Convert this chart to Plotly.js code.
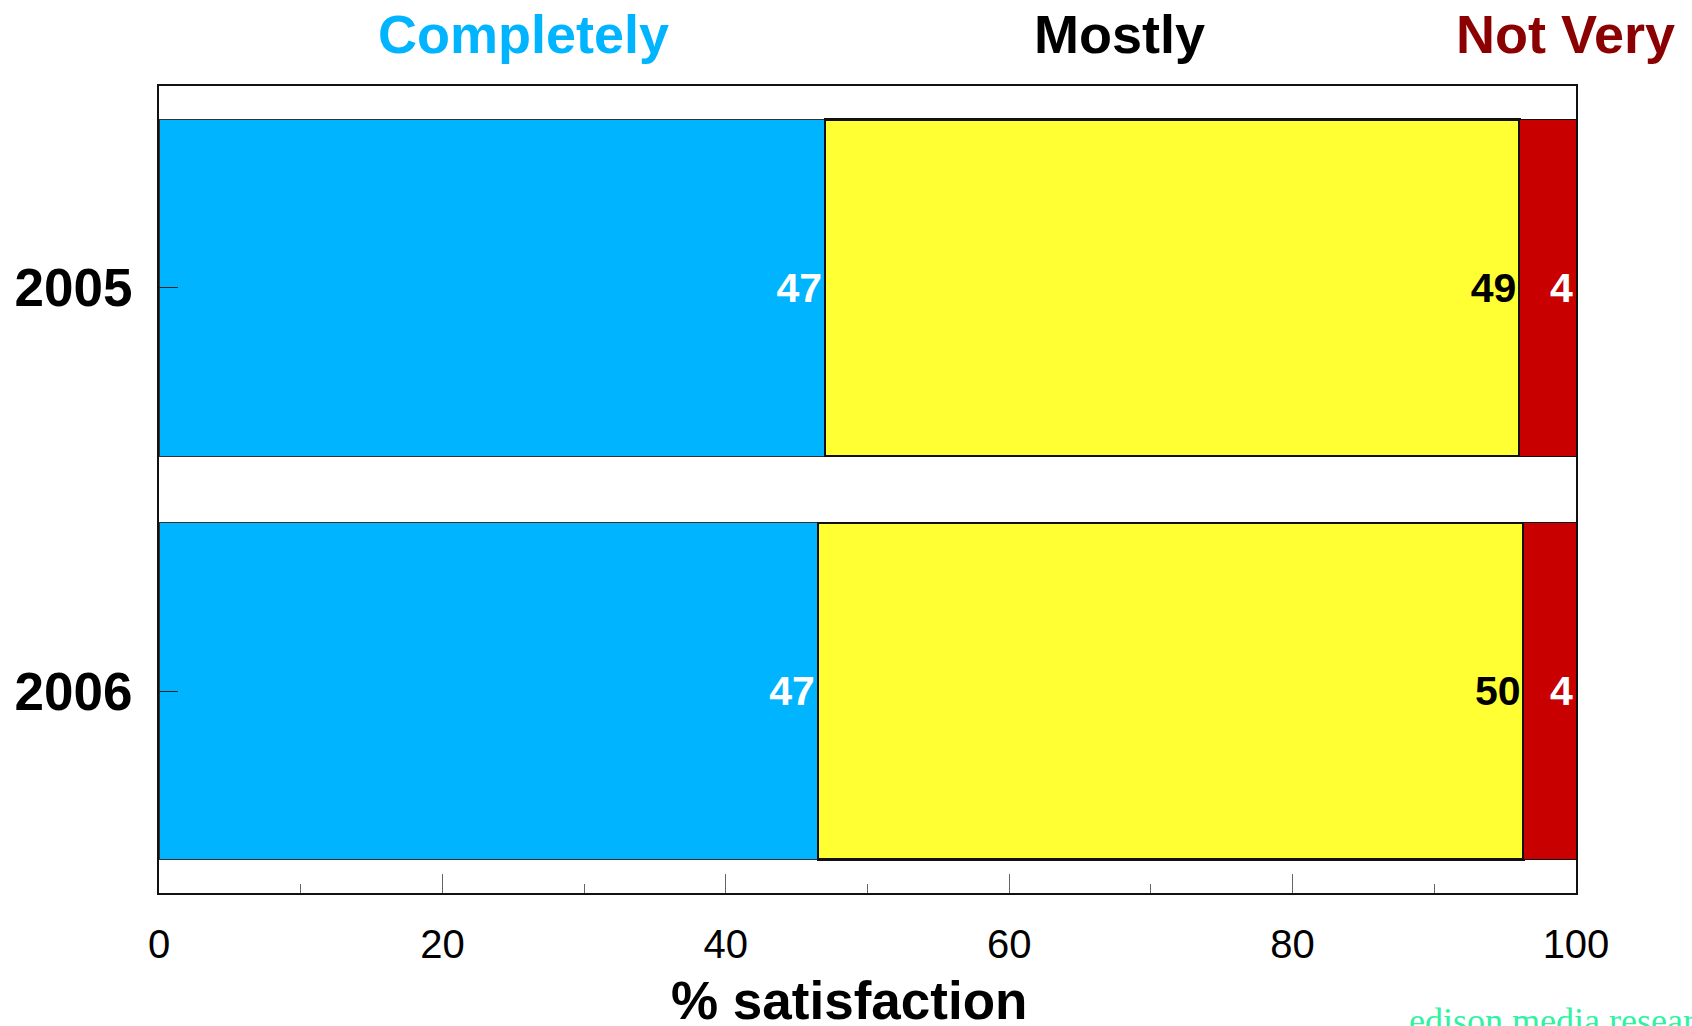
<!DOCTYPE html>
<html>
<head>
<meta charset="utf-8">
<script src="https://cdn.plot.ly/plotly-3.0.1.min.js"></script>
<style>html,body{margin:0;padding:0;background:#fff;}#chart{width:1692px;height:1026px;}</style>
</head>
<body>
<div id="chart"></div>
<script>
const years = ["2005", "2006"];
const completely = [47, 46.5];
const mostly = [49, 49.8];
const notVery = [4, 3.7];
const seriesNames = ["Completely", "Mostly", "Not Very"];
const xTicks = [0, 20, 40, 60, 80, 100];
const xTitle = "% satisfaction";

const FONT = "Arial, 'Liberation Sans', sans-serif";

function barTrace(vals, name, fill, lineColor, lineWidth, textColor) {
  return {
    type: "bar",
    orientation: "h",
    name: name,
    y: years,
    x: vals,
    marker: { color: fill, line: { color: lineColor, width: lineWidth } },
    texttemplate: "%{x:.0f}",
    textposition: "inside",
    insidetextanchor: "end",
    constraintext: "none",
    textangle: 0,
    textfont: { family: FONT, size: 41, color: textColor, weight: "bold" },
    hoverinfo: "skip"
  };
}

const data = [
  barTrace(completely, seriesNames[0], "#00b4ff", "#333333", 1, "#ffffff"),
  barTrace(mostly, seriesNames[1], "#ffff33", "#111111", 2.5, "#000000"),
  barTrace(notVery, seriesNames[2], "#c80000", "#111111", 1, "#ffffff")
];

const layout = {
  width: 1692,
  height: 1026,
  margin: { l: 159, r: 116, t: 86, b: 133, pad: 0 },
  paper_bgcolor: "#ffffff",
  plot_bgcolor: "#ffffff",
  barmode: "stack",
  bargap: 0.166,
  showlegend: false,
  font: { family: FONT, color: "#000" },
  xaxis: {
    range: [0, 100],
    tickvals: xTicks,
    ticktext: xTicks.map(String),
    ticks: "inside",
    ticklen: 19,
    tickwidth: 1,
    tickcolor: "#666666",
    minor: { dtick: 10, tick0: 0, ticks: "inside", ticklen: 9, tickwidth: 1, tickcolor: "#666666" },
    showline: true,
    linecolor: "#111111",
    linewidth: 2,
    mirror: true,
    showgrid: false,
    zeroline: false,
    tickfont: { family: FONT, size: 40, color: "#000" },
    ticklabelstandoff: 15,
    automargin: false,
    fixedrange: true
  },
  yaxis: {
    type: "category",
    categoryorder: "array",
    categoryarray: years,
    autorange: false,
    range: [1.5, -0.5],
    ticks: "inside",
    ticklen: 19,
    tickwidth: 1,
    tickcolor: "#222222",
    showline: true,
    linecolor: "#111111",
    linewidth: 2,
    mirror: true,
    showgrid: false,
    zeroline: false,
    tickfont: { family: FONT, size: 53, color: "#000", weight: "bold" },
    ticklabelstandoff: 14,
    automargin: false,
    fixedrange: true
  },
  annotations: [
    { text: xTitle, xref: "paper", yref: "paper", x: 0.487, y: -0.1338, xanchor: "center", yanchor: "middle", showarrow: false,
      font: { family: FONT, size: 53, color: "#000", weight: "bold" } },
    { text: seriesNames[0], xref: "paper", yref: "paper", x: 0.2572, y: 1.065, xanchor: "center", yanchor: "middle", showarrow: false,
      font: { family: FONT, size: 54, color: "#00b4ff", weight: "bold" } },
    { text: seriesNames[1], xref: "paper", yref: "paper", x: 0.6777, y: 1.065, xanchor: "center", yanchor: "middle", showarrow: false,
      font: { family: FONT, size: 54, color: "#000000", weight: "bold" } },
    { text: seriesNames[2], xref: "paper", yref: "paper", x: 0.9923, y: 1.065, xanchor: "center", yanchor: "middle", showarrow: false,
      font: { family: FONT, size: 54, color: "#8b0000", weight: "bold" } },
    { text: "edison media research", xref: "paper", yref: "paper", x: 0.8808, y: -0.158, xanchor: "left", yanchor: "middle", showarrow: false,
      font: { family: "'Liberation Serif', 'DejaVu Serif', serif", size: 36, color: "#2ff2a2" } }
  ]
};

Plotly.newPlot("chart", data, layout, { displayModeBar: false, staticPlot: true });
</script>
</body>
</html>
